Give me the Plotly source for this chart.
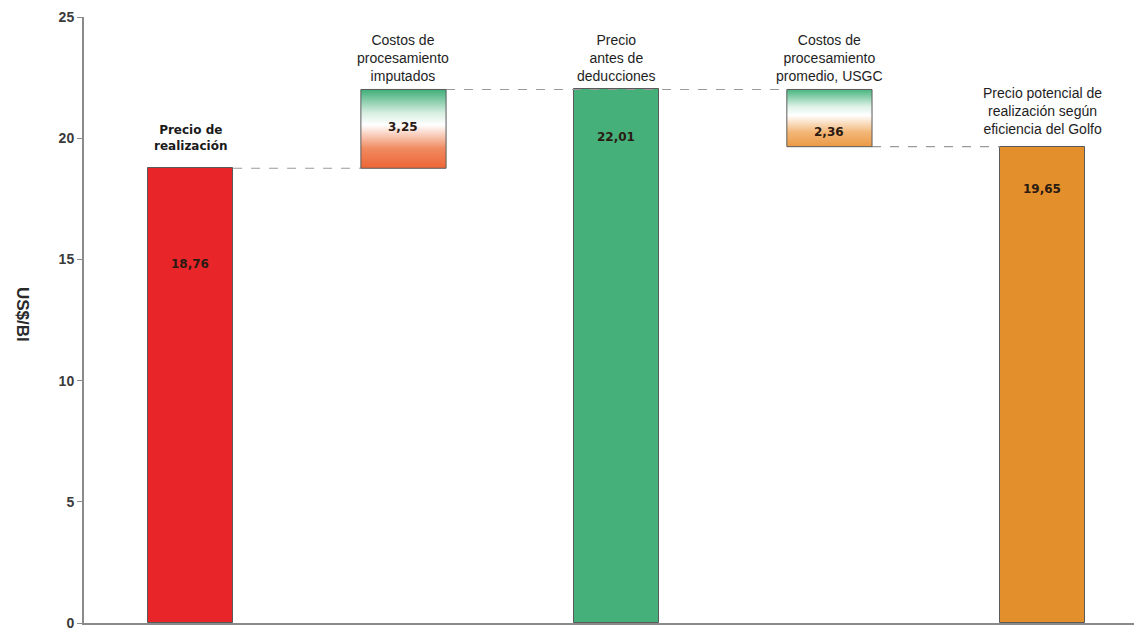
import plotly.graph_objects as go

# Waterfall de precios (US$/Bl)
categorias = [
    "Precio de<br>realización",
    "Costos de<br>procesamiento<br>imputados",
    "Precio<br>antes de<br>deducciones",
    "Costos de<br>procesamiento<br>promedio, USGC",
    "Precio potencial de<br>realización según<br>eficiencia del Golfo",
]
precio_realizacion = 18.76
costos_imputados = 3.25
precio_antes_deducciones = 22.01
costos_usgc = 2.36
precio_potencial = 19.65

y_ticks = [0, 5, 10, 15, 20, 25]
titulo_y = "US$/Bl"

ROJO = "#e8262a"
VERDE = "#45b07a"
NARANJA = "#e28f2c"
BORDE = "#5a5a5a"
ANCHO = 0.4


def fmt(v):
    return f"{v:.2f}".replace(".", ",")


fig = go.Figure()

# Conectores punteados (debajo de las barras)
conectores = [
    (0, 1, precio_realizacion),
    (1, 3, precio_antes_deducciones),
    (3, 4, precio_potencial),
]
for a, b, nivel in conectores:
    fig.add_trace(go.Scatter(
        x=[a + ANCHO / 2, b - ANCHO / 2], y=[nivel, nivel],
        mode="lines", line=dict(color="#9a9a9a", width=1.2, dash="dash"),
        showlegend=False, hoverinfo="skip",
    ))

# Barras completas
x_pos = [0, 2, 4]
valores = [precio_realizacion, precio_antes_deducciones, precio_potencial]
colores = [ROJO, VERDE, NARANJA]
fig.add_trace(go.Bar(
    x=x_pos, y=valores, width=ANCHO,
    marker=dict(color=colores, line=dict(color=BORDE, width=1)),
    showlegend=False, hoverinfo="skip",
))

# Barras flotantes con degradado (costos)
flotantes = [
    (1, precio_realizacion, precio_realizacion + costos_imputados,
     [[0, "#ee6636"], [0.25, "#f08a60"], [0.55, "#ffffff"], [0.7, "#d8efe2"], [1, "#3fae78"]]),
    (3, precio_antes_deducciones - costos_usgc, precio_antes_deducciones,
     [[0, "#eb9a45"], [0.25, "#f3b676"], [0.55, "#ffffff"], [0.7, "#dff2e8"], [1, "#48b57f"]]),
]
for xc, base, tope, escala in flotantes:
    x0, x1 = xc - ANCHO / 2, xc + ANCHO / 2
    fig.add_trace(go.Scatter(
        x=[x0, x1, x1, x0, x0], y=[base, base, tope, tope, base],
        mode="lines", fill="toself",
        fillgradient=dict(type="vertical", colorscale=escala),
        line=dict(color=BORDE, width=1),
        showlegend=False, hoverinfo="skip",
    ))

# Etiquetas de valor
valores_txt = [
    (0, fmt(precio_realizacion), 14.8),
    (1, fmt(costos_imputados), 20.45),
    (2, fmt(precio_antes_deducciones), 20.07),
    (3, fmt(costos_usgc), 20.27),
    (4, fmt(precio_potencial), 17.9),
]
for xc, txt, yy in valores_txt:
    fig.add_annotation(x=xc, y=yy, text=f"<b>{txt}</b>", showarrow=False,
                       font=dict(family="DejaVu Sans", size=12, color="#2a1a12"))

# Etiquetas de categoría
cat_y = [19.3, 22.15, 22.15, 22.15, 19.95]
for i, (txt, yy) in enumerate(zip(categorias, cat_y)):
    if i == 0:
        t = f"<b>{txt}</b>"
        f = dict(family="DejaVu Sans", size=12, color="#1a1a1a")
    else:
        t = txt
        f = dict(family="Liberation Sans", size=14, color="#1e1e1e")
    fig.add_annotation(x=i, y=yy, text=t, showarrow=False, yanchor="bottom",
                       font=f, align="center")

# Título del eje Y, leído de arriba hacia abajo
fig.add_annotation(xref="paper", yref="paper", x=-0.059, y=0.51,
                   text=f"<b>{titulo_y}</b>", showarrow=False, textangle=90,
                   xanchor="center", yanchor="middle",
                   font=dict(family="Liberation Sans", size=17, color="#2a2a2a"))

fig.update_layout(
    width=1134, height=631,
    margin=dict(l=84, r=0, t=17, b=8),
    paper_bgcolor="white", plot_bgcolor="white",
    bargap=0,
    xaxis=dict(range=[-0.5, 4.43], showticklabels=False, ticks="",
               showgrid=False, zeroline=False, showline=True,
               linecolor="#8a8a8a", linewidth=2),
    yaxis=dict(range=[0, 25], tickvals=y_ticks, ticks="outside", ticklen=5,
               tickcolor="#8a8a8a", showgrid=False, zeroline=False,
               showline=True, linecolor="#8a8a8a", linewidth=2,
               tickfont=dict(family="Liberation Sans", size=14, color="#3a3a3a",
                             weight="bold")),
)

fig.write_html("out.html")
